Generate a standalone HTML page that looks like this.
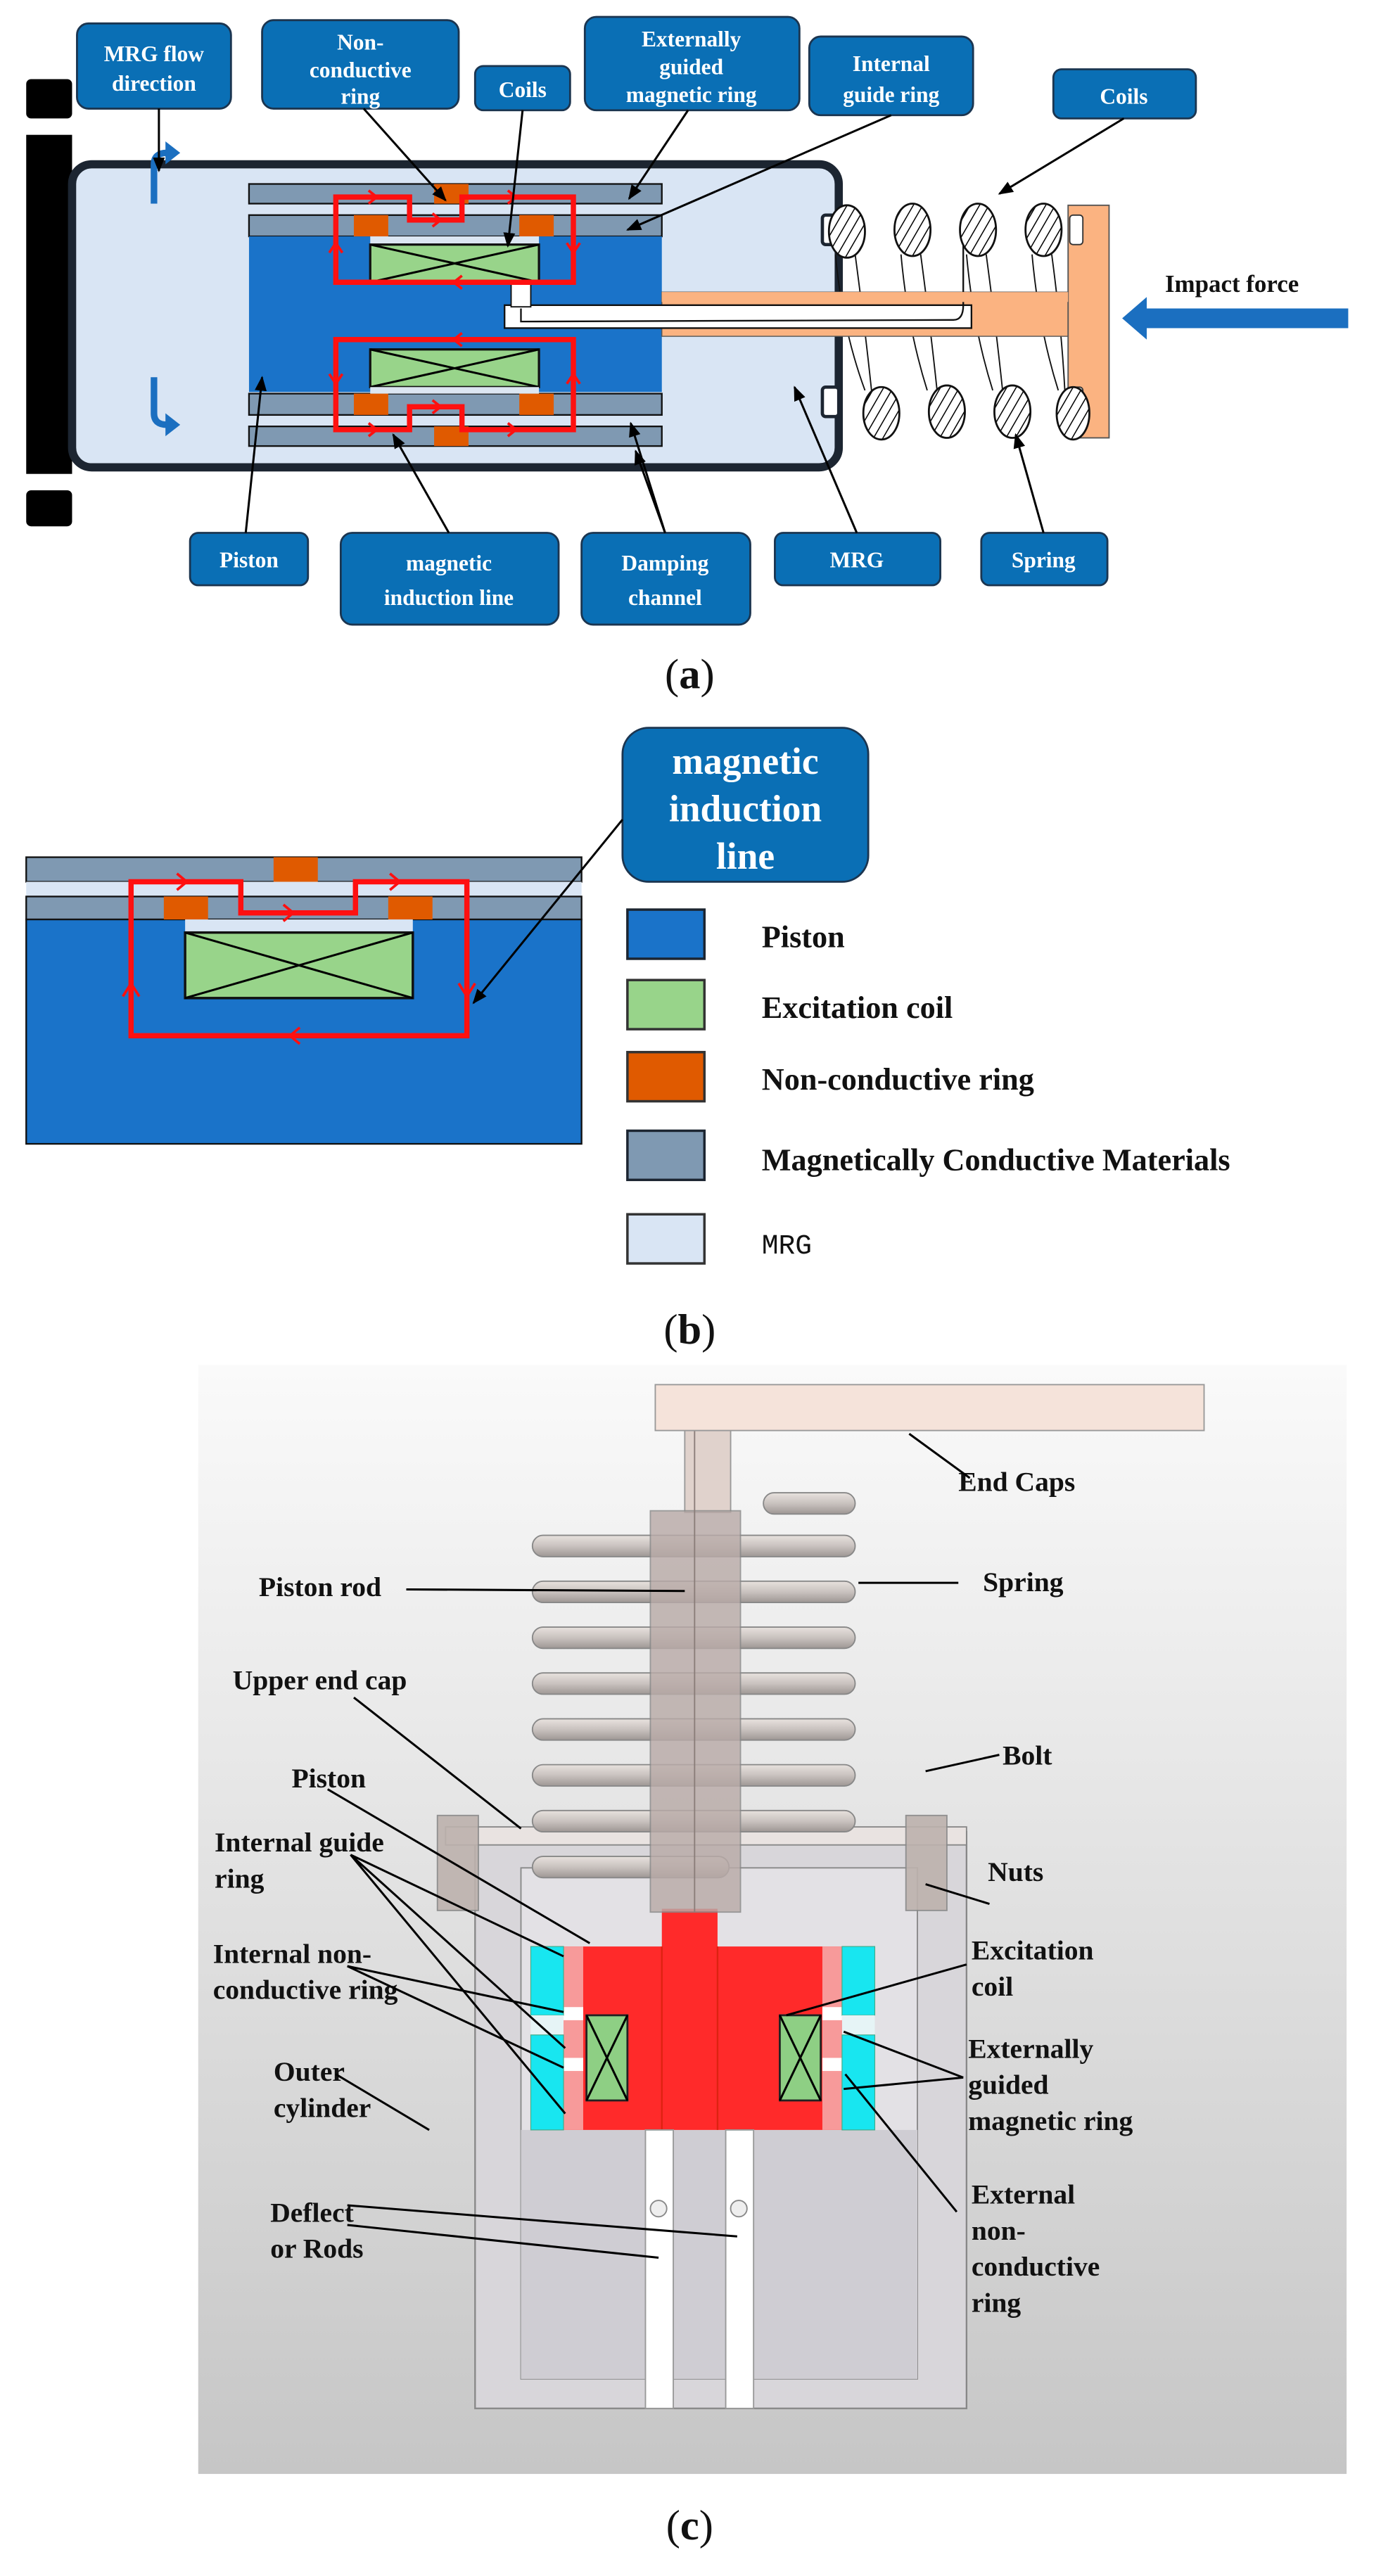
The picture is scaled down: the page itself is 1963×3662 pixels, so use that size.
<!DOCTYPE html>
<html><head><meta charset="utf-8"><style>
html,body{margin:0;padding:0;background:#fff;}
svg{display:block;}
.bx{fill:#0a6fb5;stroke:#1b3550;stroke-width:1.2;}
.bt{fill:#fff;font-family:"Liberation Serif",serif;font-weight:bold;font-size:13.5px;text-anchor:middle;}
.lb{fill:#111;font-family:"Liberation Serif",serif;font-weight:bold;font-size:17px;}
.lg{fill:#111;font-family:"Liberation Serif",serif;font-weight:bold;font-size:19px;}
.cap{fill:#111;font-family:"Liberation Serif",serif;font-size:26px;text-anchor:middle;}
.ln{stroke:#000;stroke-width:1.3;fill:none;}
.red{stroke:#ff1010;stroke-width:3.2;fill:none;}
</style></head><body>
<svg width="1963" height="3662" viewBox="0 0 843 1572" xmlns="http://www.w3.org/2000/svg">
<defs>
<marker id="ar" viewBox="0 0 10 10" refX="9" refY="5" markerWidth="7" markerHeight="7" orient="auto"><path d="M0,1 L10,5 L0,9 Z" fill="#000"/></marker>
<pattern id="hat" width="5" height="5" patternUnits="userSpaceOnUse" patternTransform="rotate(30)"><rect width="5" height="5" fill="#fff"/><line x1="0" y1="0" x2="0" y2="5" stroke="#000" stroke-width="1.3"/></pattern>
<linearGradient id="bg" x1="0" y1="0" x2="0" y2="1"><stop offset="0" stop-color="#fafafa"/><stop offset="1" stop-color="#c6c6c6"/></linearGradient>
<linearGradient id="coil" x1="0" y1="0" x2="0" y2="1"><stop offset="0" stop-color="#e8e2de"/><stop offset="0.5" stop-color="#c9c2bf"/><stop offset="1" stop-color="#9e9794"/></linearGradient>
</defs>

<!-- ===== Panel (a) ===== -->
<rect x="16" y="48" width="28" height="24" rx="3" fill="#000"/>
<rect x="16" y="82" width="28" height="207" fill="#000"/>
<rect x="16" y="299" width="28" height="22" rx="3" fill="#000"/>
<rect x="44" y="100" width="468" height="185" rx="12" fill="#d9e5f4" stroke="#1c2531" stroke-width="5"/>
<rect x="152" y="112" width="252" height="12" fill="#7f99b2" stroke="#111" stroke-width="1"/>
<rect x="152" y="131" width="252" height="13" fill="#7f99b2" stroke="#111" stroke-width="1"/>
<rect x="152" y="144" width="252" height="95" fill="#1a73c9"/>
<rect x="152" y="240" width="252" height="13" fill="#7f99b2" stroke="#111" stroke-width="1"/>
<rect x="152" y="260" width="252" height="12" fill="#7f99b2" stroke="#111" stroke-width="1"/>
<rect x="265" y="112" width="21" height="12" fill="#e05a00"/>
<rect x="216" y="131" width="21" height="13" fill="#e05a00"/>
<rect x="317" y="131" width="21" height="13" fill="#e05a00"/>
<rect x="216" y="240" width="21" height="13" fill="#e05a00"/>
<rect x="317" y="240" width="21" height="13" fill="#e05a00"/>
<rect x="265" y="260" width="21" height="12" fill="#e05a00"/>
<rect x="226" y="144" width="103" height="5" fill="#dce6f2"/>
<rect x="226" y="149" width="103" height="23" fill="#98d48a" stroke="#111" stroke-width="1.4"/>
<path d="M226,149 L329,172 M329,149 L226,172" class="ln" stroke-width="1.4"/>
<rect x="226" y="213" width="103" height="23" fill="#98d48a" stroke="#111" stroke-width="1.4"/>
<path d="M226,213 L329,236 M329,213 L226,236" class="ln" stroke-width="1.4"/>
<rect x="226" y="236" width="103" height="4" fill="#dce6f2"/>
<!-- spring coil lines (behind) -->
<g stroke="#111" stroke-width="0.8" fill="none">
<path d="M522,155 Q528,200 532,238"/><path d="M562,155 Q568,200 572,238"/><path d="M602,155 Q608,200 612,238"/><path d="M642,155 Q648,200 650,238"/>
<path d="M510,155 Q514,200 528,238"/><path d="M550,155 Q554,200 566,238"/><path d="M590,155 Q594,200 606,238"/><path d="M630,155 Q634,200 646,238"/>
</g>
<rect x="404" y="178" width="248" height="27" fill="#fbb381" stroke="#555" stroke-width="0.6"/>
<path d="M308,186 L593,186 L593,200 L308,200 Z" fill="#fff" stroke="#111" stroke-width="1"/>
<rect x="312" y="172" width="12" height="15" fill="#fff" stroke="#111" stroke-width="0.8"/>
<path d="M318,188 L318,196 L582,195 Q588,195 588,186 L588,145" fill="none" stroke="#111" stroke-width="1"/>
<rect x="404" y="178" width="187" height="6" fill="#fbb381"/>
<path class="red" d="M205,172 L205,120 L250,120 L250,134 L282,134 L282,120 L350,120 L350,172 Z"/>
<path class="red" d="M205,207 L205,262 L250,262 L250,248 L282,248 L282,262 L350,262 L350,207 Z"/>
<g stroke="#ff1010" stroke-width="1.6" fill="none">
<path d="M225,116 L230,120 L225,124"/><path d="M310,116 L315,120 L310,124"/><path d="M264,130 L269,134 L264,138"/>
<path d="M282,168 L277,172 L282,176"/><path d="M201,154 L205,148 L209,154"/><path d="M346,148 L350,154 L354,148"/>
<path d="M282,203 L277,207 L282,211"/><path d="M201,228 L205,234 L209,228"/><path d="M346,234 L350,228 L354,234"/>
<path d="M225,258 L230,262 L225,266"/><path d="M310,258 L315,262 L310,266"/><path d="M264,244 L269,248 L264,252"/>
</g>
<rect x="502" y="131" width="10" height="18" rx="2" fill="#fff" stroke="#1c2531" stroke-width="2"/>
<rect x="502" y="236" width="10" height="18" rx="2" fill="#fff" stroke="#1c2531" stroke-width="2"/>
<rect x="652" y="125" width="25" height="142" fill="#fbb381" stroke="#555" stroke-width="0.8"/>
<rect x="653" y="131" width="8" height="18" rx="2" fill="#fff" stroke="#333" stroke-width="0.8"/>
<rect x="653" y="236" width="8" height="18" rx="2" fill="#fff" stroke="#333" stroke-width="0.8"/>
<g stroke="#111" stroke-width="1.2" fill="url(#hat)">
<ellipse cx="517" cy="141" rx="11" ry="16"/><ellipse cx="557" cy="140" rx="11" ry="16"/><ellipse cx="597" cy="140" rx="11" ry="16"/><ellipse cx="637" cy="140" rx="11" ry="16"/>
<ellipse cx="538" cy="252" rx="11" ry="16"/><ellipse cx="578" cy="251" rx="11" ry="16"/><ellipse cx="618" cy="251" rx="11" ry="16"/><ellipse cx="655" cy="252" rx="10" ry="16"/>
</g>
<rect x="404" y="178" width="248" height="6" fill="#fbb381"/>
<path d="M823,188 L700,188 L700,181 L685,194 L700,207 L700,200 L823,200 Z" fill="#1b6fc0"/>
<text x="752" y="178" class="lb" text-anchor="middle" style="font-size:15px">Impact force</text>
<!-- flow arrows -->
<path d="M94,124 L94,100 Q94,93 102,93" fill="none" stroke="#1b6fc0" stroke-width="4"/>
<path d="M101,86 L110,93 L101,100 Z" fill="#1b6fc0"/>
<path d="M94,230 L94,252 Q94,259 102,259" fill="none" stroke="#1b6fc0" stroke-width="4"/>
<path d="M101,252 L110,259 L101,266 Z" fill="#1b6fc0"/>
<!-- label boxes -->
<rect class="bx" x="47" y="14" width="94" height="52" rx="7"/>
<text class="bt" x="94" y="37">MRG flow</text><text class="bt" x="94" y="55">direction</text>
<rect class="bx" x="160" y="12" width="120" height="54" rx="7"/>
<text class="bt" x="220" y="30">Non-</text><text class="bt" x="220" y="47">conductive</text><text class="bt" x="220" y="63">ring</text>
<rect class="bx" x="290" y="40" width="58" height="27" rx="5"/>
<text class="bt" x="319" y="59">Coils</text>
<rect class="bx" x="357" y="10" width="131" height="57" rx="7"/>
<text class="bt" x="422" y="28">Externally</text><text class="bt" x="422" y="45">guided</text><text class="bt" x="422" y="62">magnetic ring</text>
<rect class="bx" x="494" y="22" width="100" height="48" rx="7"/>
<text class="bt" x="544" y="43">Internal</text><text class="bt" x="544" y="62">guide ring</text>
<rect class="bx" x="643" y="42" width="87" height="30" rx="5"/>
<text class="bt" x="686" y="63">Coils</text>
<rect class="bx" x="116" y="325" width="72" height="32" rx="5"/>
<text class="bt" x="152" y="346">Piston</text>
<rect class="bx" x="208" y="325" width="133" height="56" rx="7"/>
<text class="bt" x="274" y="348">magnetic</text><text class="bt" x="274" y="369">induction line</text>
<rect class="bx" x="355" y="325" width="103" height="56" rx="7"/>
<text class="bt" x="406" y="348">Damping</text><text class="bt" x="406" y="369">channel</text>
<rect class="bx" x="473" y="325" width="101" height="32" rx="5"/>
<text class="bt" x="523" y="346">MRG</text>
<rect class="bx" x="599" y="325" width="77" height="32" rx="5"/>
<text class="bt" x="637" y="346">Spring</text>
<g class="ln" marker-end="url(#ar)">
<path d="M97,66 L97,104"/>
<path d="M222,66 L272,122"/>
<path d="M319,67 L310,150"/>
<path d="M420,67 L384,121"/>
<path d="M544,70 L383,140"/>
<path d="M686,72 L610,118"/>
<path d="M150,325 L160,230"/>
<path d="M274,325 L240,265"/>
<path d="M406,325 L385,258"/>
<path d="M406,325 L388,275"/>
<path d="M523,325 L485,236"/>
<path d="M637,325 L620,265"/>
</g>
<text class="cap" x="421" y="420">(<tspan font-weight="bold">a</tspan>)</text>

<!-- ===== Panel (b) ===== -->
<rect x="16" y="523" width="339" height="15" fill="#7f99b2" stroke="#111" stroke-width="1"/>
<rect x="16" y="538" width="339" height="9" fill="#d9e5f4"/>
<rect x="16" y="547" width="339" height="14" fill="#7f99b2" stroke="#111" stroke-width="1"/>
<rect x="16" y="561" width="339" height="137" fill="#1a73c9" stroke="#111" stroke-width="1"/>
<rect x="167" y="523" width="27" height="15" fill="#e05a00"/>
<rect x="100" y="547" width="27" height="14" fill="#e05a00"/>
<rect x="237" y="547" width="27" height="14" fill="#e05a00"/>
<rect x="113" y="561" width="139" height="8" fill="#d9e5f4"/>
<rect x="113" y="569" width="139" height="40" fill="#98d48a" stroke="#111" stroke-width="1.5"/>
<path d="M113,569 L252,609 M252,569 L113,609" class="ln" stroke-width="1.5"/>
<path class="red" d="M80,632 L80,538 L147,538 L147,557 L217,557 L217,538 L285,538 L285,632 Z"/>
<g stroke="#ff1010" stroke-width="1.6" fill="none">
<path d="M108,533 L114,538 L108,543"/><path d="M238,533 L244,538 L238,543"/><path d="M173,552 L179,557 L173,562"/>
<path d="M183,627 L177,632 L183,637"/><path d="M75,608 L80,600 L85,608"/><path d="M280,600 L285,608 L290,600"/>
</g>
<rect class="bx" x="380" y="444" width="150" height="94" rx="16" stroke-width="1.8"/>
<text class="bt" x="455" y="472" style="font-size:23px">magnetic</text><text class="bt" x="455" y="501" style="font-size:23px">induction</text><text class="bt" x="455" y="530" style="font-size:23px">line</text>
<path d="M380,500 L289,612" class="ln" marker-end="url(#ar)"/>
<rect x="383" y="555" width="47" height="30" fill="#1a73c9" stroke="#1c2531" stroke-width="1.5"/>
<rect x="383" y="598" width="47" height="30" fill="#98d48a" stroke="#333" stroke-width="1.5"/>
<rect x="383" y="642" width="47" height="30" fill="#e05a00" stroke="#333" stroke-width="1.5"/>
<rect x="383" y="690" width="47" height="30" fill="#7f99b2" stroke="#1c2531" stroke-width="1.5"/>
<rect x="383" y="741" width="47" height="30" fill="#d9e5f4" stroke="#333" stroke-width="1.5"/>
<text class="lg" x="465" y="578">Piston</text>
<text class="lg" x="465" y="621">Excitation coil</text>
<text class="lg" x="465" y="665">Non-conductive ring</text>
<text class="lg" x="465" y="714">Magnetically Conductive Materials</text>
<text x="465" y="765" font-family="'Liberation Mono',monospace" font-size="17" fill="#111">MRG</text>
<text class="cap" x="421" y="820">(<tspan font-weight="bold">b</tspan>)</text>

<!-- ===== Panel (c) ===== -->
<rect x="121" y="833" width="701" height="677" fill="url(#bg)"/>
<rect x="290" y="1118" width="300" height="352" fill="#d8d6da" stroke="#888" stroke-width="1"/>
<rect x="318" y="1140" width="242" height="312" fill="#e3e1e5" stroke="#888" stroke-width="0.8"/>
<rect x="318" y="1300" width="242" height="152" fill="#cfcdd3"/>
<rect x="272" y="1115" width="318" height="11" fill="#e9e3e1" stroke="#888" stroke-width="0.8"/>
<rect x="267" y="1108" width="25" height="58" fill="#bdb2ad" stroke="#888" stroke-width="0.8" opacity="0.9"/>
<rect x="553" y="1108" width="25" height="58" fill="#bdb2ad" stroke="#888" stroke-width="0.8" opacity="0.9"/>
<rect x="404" y="1165" width="34" height="25" fill="#ff2a2a"/>
<rect x="344" y="1188" width="170" height="112" fill="#ff2a2a"/>
<rect x="344" y="1188" width="12" height="112" fill="#f79a9a"/>
<rect x="502" y="1188" width="12" height="112" fill="#f79a9a"/>
<rect x="344" y="1225" width="12" height="8" fill="#fff"/><rect x="344" y="1256" width="12" height="8" fill="#fff"/>
<rect x="502" y="1225" width="12" height="8" fill="#fff"/><rect x="502" y="1256" width="12" height="8" fill="#fff"/>
<rect x="324" y="1188" width="20" height="42" fill="#18e6f0" stroke="#4a8" stroke-width="0.5"/>
<rect x="324" y="1230" width="20" height="12" fill="#e6f4f6"/>
<rect x="324" y="1242" width="20" height="58" fill="#18e6f0" stroke="#4a8" stroke-width="0.5"/>
<rect x="514" y="1188" width="20" height="42" fill="#18e6f0" stroke="#4a8" stroke-width="0.5"/>
<rect x="514" y="1230" width="20" height="12" fill="#e6f4f6"/>
<rect x="514" y="1242" width="20" height="58" fill="#18e6f0" stroke="#4a8" stroke-width="0.5"/>
<rect x="358" y="1230" width="25" height="52" fill="#8ecf84" stroke="#222" stroke-width="1.2"/>
<path d="M358,1230 L383,1282 M383,1230 L358,1282" class="ln"/>
<rect x="476" y="1230" width="25" height="52" fill="#8ecf84" stroke="#222" stroke-width="1.2"/>
<path d="M476,1230 L501,1282 M501,1230 L476,1282" class="ln"/>
<path d="M404,1188 L404,1300 M438,1188 L438,1300" stroke="#d21" stroke-width="1"/>
<rect x="394" y="1300" width="17" height="170" fill="#fff" stroke="#999" stroke-width="0.8"/>
<rect x="443" y="1300" width="17" height="170" fill="#fff" stroke="#999" stroke-width="0.8"/>
<circle cx="402" cy="1348" r="5" fill="#eee" stroke="#888" stroke-width="0.8"/>
<circle cx="451" cy="1348" r="5" fill="#eee" stroke="#888" stroke-width="0.8"/>
<g stroke="#888" stroke-width="0.8" fill="url(#coil)">
<rect x="466" y="911" width="56" height="13" rx="6.5"/>
<rect x="325" y="937" width="197" height="13" rx="6.5"/><rect x="325" y="965" width="197" height="13" rx="6.5"/>
<rect x="325" y="993" width="197" height="13" rx="6.5"/><rect x="325" y="1021" width="197" height="13" rx="6.5"/>
<rect x="325" y="1049" width="197" height="13" rx="6.5"/><rect x="325" y="1077" width="197" height="13" rx="6.5"/>
<rect x="325" y="1105" width="197" height="13" rx="6.5"/>
<rect x="325" y="1133" width="120" height="13" rx="6.5"/>
</g>
<rect x="418" y="873" width="28" height="50" fill="#e0d2cc" stroke="#999" stroke-width="0.8"/>
<rect x="397" y="922" width="55" height="245" fill="#b9aba8" stroke="#888" stroke-width="0.8" opacity="0.82"/>
<line x1="424" y1="873" x2="424" y2="1167" stroke="#8a7d79" stroke-width="0.8"/>
<rect x="400" y="845" width="335" height="28" fill="#f5e3da" stroke="#999" stroke-width="0.8"/>
<text class="lb" x="585" y="910">End Caps</text>
<text class="lb" x="158" y="974">Piston rod</text>
<text class="lb" x="600" y="971">Spring</text>
<text class="lb" x="142" y="1031">Upper end cap</text>
<text class="lb" x="612" y="1077">Bolt</text>
<text class="lb" x="178" y="1091">Piston</text>
<text class="lb" x="131" y="1130">Internal guide</text><text class="lb" x="131" y="1152">ring</text>
<text class="lb" x="603" y="1148">Nuts</text>
<text class="lb" x="130" y="1198">Internal non-</text><text class="lb" x="130" y="1220">conductive ring</text>
<text class="lb" x="593" y="1196">Excitation</text><text class="lb" x="593" y="1218">coil</text>
<text class="lb" x="167" y="1270">Outer</text><text class="lb" x="167" y="1292">cylinder</text>
<text class="lb" x="591" y="1256">Externally</text><text class="lb" x="591" y="1278">guided</text><text class="lb" x="591" y="1300">magnetic ring</text>
<text class="lb" x="165" y="1356">Deflect</text><text class="lb" x="165" y="1378">or Rods</text>
<text class="lb" x="593" y="1345">External</text><text class="lb" x="593" y="1367">non-</text><text class="lb" x="593" y="1389">conductive</text><text class="lb" x="593" y="1411">ring</text>
<g class="ln">
<path d="M555,875 L592,902"/>
<path d="M248,970 L418,971"/>
<path d="M524,966 L585,966"/>
<path d="M216,1036 L318,1116"/>
<path d="M565,1081 L610,1071"/>
<path d="M200,1092 L360,1186"/>
<path d="M565,1150 L604,1162"/>
<path d="M214,1132 L344,1194 M214,1132 L345,1250 M214,1132 L345,1290"/>
<path d="M212,1200 L344,1228 M212,1200 L344,1262"/>
<path d="M590,1199 L480,1230"/>
<path d="M588,1268 L515,1240 M588,1268 L515,1275"/>
<path d="M584,1350 L516,1266"/>
<path d="M205,1266 L262,1300"/>
<path d="M212,1346 L450,1365 M212,1358 L402,1378"/>
</g>
<text class="cap" x="421" y="1550">(<tspan font-weight="bold">c</tspan>)</text>
</svg>
</body></html>
